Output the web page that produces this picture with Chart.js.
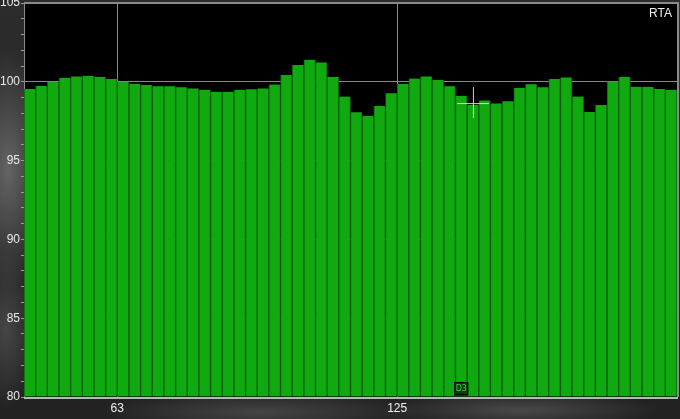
<!DOCTYPE html>
<html>
<head>
<meta charset="utf-8">
<script src="https://cdn.jsdelivr.net/npm/chart.js@4.4.0/dist/chart.umd.min.js"></script>
<style>
  html, body { margin: 0; padding: 0; }
  body {
    width: 680px; height: 419px; overflow: hidden;
    background:
      radial-gradient(ellipse 40px 120px at 8px 170px, rgba(150,150,150,0.55), transparent),
      radial-gradient(ellipse 30px 80px at 6px 330px, rgba(120,120,120,0.4), transparent),
      radial-gradient(ellipse 160px 20px at 260px 412px, rgba(110,110,110,0.45), transparent),
      radial-gradient(ellipse 140px 18px at 520px 410px, rgba(120,120,120,0.45), transparent),
      linear-gradient(#2c2c2c, #222);
  }
  canvas { display: block; }
</style>
</head>
<body>
<canvas id="rta" width="680" height="419"></canvas>
<script>
// 1/24 octave RTA levels (dB)
const levels = [
  99.54, 99.73, 100.0, 100.25, 100.34, 100.38, 100.32, 100.17, 100.0, 99.87,
  99.79, 99.71, 99.71, 99.66, 99.58, 99.49, 99.37, 99.37, 99.49, 99.52,
  99.58, 99.83, 100.43, 101.06, 101.4, 101.23, 100.3, 99.07, 98.06, 97.84,
  98.46, 99.28, 99.87, 100.21, 100.34, 100.13, 99.71, 99.11, 98.55, 98.82,
  98.63, 98.77, 99.62, 99.85, 99.66, 100.17, 100.28, 99.07, 98.08, 98.52,
  100.02, 100.32, 99.68, 99.68, 99.54, 99.49
];
const bands = levels.map((v, i) => String(i + 1));

// frequency marks sit on band boundaries
const freqPos = [8, 32];
const freqLabels = ['63', '125'];

const yMin = 80, yMax = 105;

// cursor + marker
const cursor = { band: 38, level: 98.65 };
const marker = { band: 37, text: 'D3' };

const rtaPlugin = {
  id: 'rta',
  beforeDraw(chart) {
    const a = chart.chartArea, c = chart.ctx;
    c.save();
    c.fillStyle = '#000';
    c.fillRect(a.left, a.top, a.right - a.left, a.bottom - a.top);
    c.restore();
  },
  afterDatasetsDraw(chart) {
    const a = chart.chartArea, c = chart.ctx;
    const xs = chart.scales.x, ys = chart.scales.y;
    c.save();
    // frame
    c.strokeStyle = '#8a8a8a';
    c.lineWidth = 2;
    c.beginPath();
    c.moveTo(a.left, a.top);
    c.lineTo(a.right + 1, a.top);
    c.lineTo(a.right + 1, a.bottom);
    c.stroke();
    c.strokeStyle = '#b8b8b8';
    c.lineWidth = 2;
    c.beginPath();
    c.moveTo(a.left, a.bottom + 1);
    c.lineTo(a.right + 1, a.bottom + 1);
    c.stroke();

    // RTA label
    c.fillStyle = '#f0f0f0';
    c.font = '12px "Liberation Sans", Arial, sans-serif';
    c.textAlign = 'right';
    c.textBaseline = 'top';
    c.fillText('RTA', a.right - 5, a.top + 5);

    // cursor crosshair
    const cx = xs.getPixelForValue(cursor.band), cy = ys.getPixelForValue(cursor.level);
    c.strokeStyle = 'rgba(235,235,235,0.85)';
    c.lineWidth = 1;
    c.beginPath();
    c.moveTo(cx - 16, cy + 0.5); c.lineTo(cx + 16, cy + 0.5);
    c.moveTo(cx + 0.5, cy - 16); c.lineTo(cx + 0.5, cy + 15);
    c.stroke();

    // D3 marker
    const mx = xs.getPixelForValue(marker.band);
    c.fillStyle = '#0a3d0a';
    c.fillRect(mx - 7, a.bottom - 15, 14, 15);
    c.strokeStyle = '#000';
    c.strokeRect(mx - 6.5, a.bottom - 14.5, 13, 12);
    c.fillStyle = '#3fd03f';
    c.font = '8px "DejaVu Sans", sans-serif';
    c.textAlign = 'center';
    c.textBaseline = 'middle';
    c.fillText(marker.text, mx, a.bottom - 8.5);
    c.restore();
  }
};

new Chart(document.getElementById('rta'), {
  type: 'bar',
  data: {
    labels: bands,
    datasets: [{
      data: levels,
      base: yMin,
      xAxisID: 'x',
      yAxisID: 'y',
      backgroundColor: '#10aa10',
      borderColor: '#0a5e0a',
      borderWidth: { left: 1, right: 1, top: 0, bottom: 0 },
      borderSkipped: false,
      barPercentage: 1,
      categoryPercentage: 1
    }]
  },
  options: {
    responsive: false,
    animation: false,
    layout: { padding: { top: 3, right: 3, left: 0, bottom: 0 } },
    plugins: { legend: { display: false }, tooltip: { enabled: false } },
    scales: {
      x: { display: false },
      f: {
        type: 'linear',
        position: 'bottom',
        offset: false,
        min: 0,
        max: levels.length,
        afterFit: s => { s.height = 22; s.paddingLeft = 0; s.paddingRight = 0; },
        ticks: {
          stepSize: 8,
          autoSkip: false,
          maxRotation: 0,
          padding: 4,
          color: '#f0f0f0',
          font: { family: '"Liberation Sans", Arial, sans-serif', size: 12 },
          callback: v => (freqPos.includes(v) ? freqLabels[freqPos.indexOf(v)] : '')
        },
        grid: {
          offset: false,
          drawTicks: false,
          lineWidth: 1,
          color: ctx => (ctx.tick && freqPos.includes(ctx.tick.value) ? '#8a8a8a' : 'rgba(0,0,0,0)')
        },
        border: { display: false }
      },
      y: {
        min: yMin,
        max: yMax,
        afterFit: s => { s.width = 24; s.paddingTop = 0; s.paddingBottom = 0; },
        ticks: {
          stepSize: 1,
          autoSkip: false,
          padding: 1,
          color: '#e8e8e8',
          font: { family: '"Liberation Sans", Arial, sans-serif', size: 12 },
          callback: v => (v % 5 === 0 ? String(v) : '')
        },
        grid: {
          color: ctx => (ctx.tick && ctx.tick.value % 5 === 0 ? '#8a8a8a' : 'rgba(0,0,0,0)'),
          tickColor: '#9a9a9a',
          tickLength: 3,
          lineWidth: 1
        },
        border: { color: '#8a8a8a', width: 1 }
      }
    }
  },
  plugins: [rtaPlugin]
});
</script>
</body>
</html>
